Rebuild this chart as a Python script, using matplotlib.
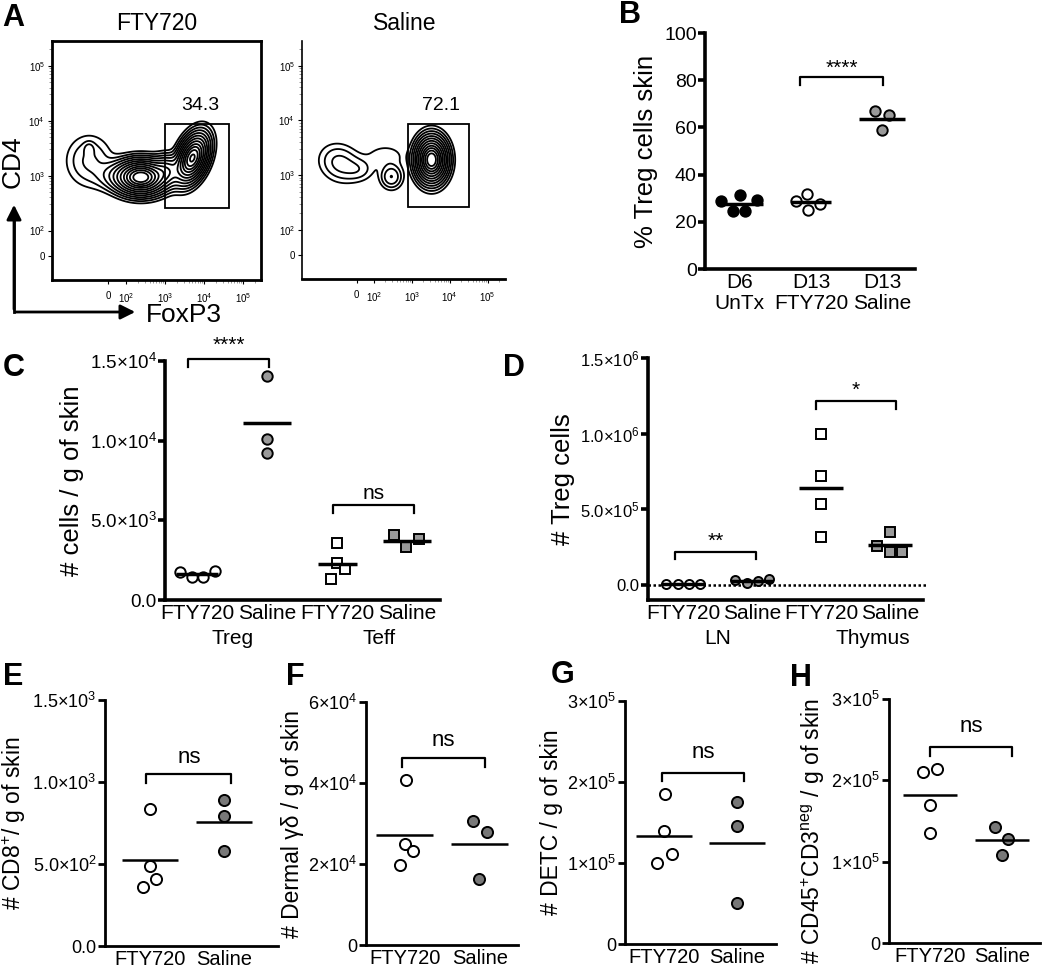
import numpy as np
import matplotlib
matplotlib.use('Agg')
import matplotlib.pyplot as plt
from matplotlib.patches import FancyArrowPatch, Rectangle
from matplotlib.lines import Line2D

plt.rcParams['font.family'] = ['Liberation Sans', 'DejaVu Sans']
plt.rcParams['mathtext.fontset'] = 'custom'
plt.rcParams['mathtext.rm'] = 'Liberation Sans'
plt.rcParams['mathtext.it'] = 'Liberation Sans:italic'
plt.rcParams['mathtext.bf'] = 'Liberation Sans:bold'

W, H = 1050, 971

# ---------------- data ----------------
# A: density blobs, in decades (FoxP3 x, CD4 y)
fty_bx = [2.38, 3.70, 1.05, 1.05, 1.7, 3.05]
fty_by = [2.97, 3.32, 3.27, 3.49, 3.0, 3.1]
fty_sx = [0.34, 0.26, 0.34, 0.08, 0.30, 0.20]
fty_sy = [0.16, 0.17, 0.27, 0.07, 0.15, 0.15]
fty_rot = [0, 50, 0, 0, 0, 0]
fty_w = [1.0, 0.9, 0.05, 0.035, 0.06, 0.18]

sal_bx = [3.52, 2.46, 1.1, 1.6, 2.3]
sal_by = [3.28, 2.97, 3.22, 3.1, 3.35]
sal_sx = [0.21, 0.17, 0.32, 0.25, 0.35]
sal_sy = [0.21, 0.13, 0.2, 0.13, 0.14]
sal_rot = [0, 0, -8, 0, 0]
sal_w = [1.0, 0.075, 0.055, 0.03, 0.02]

contour_frac = [0.012, 0.025, 0.045, 0.075, 0.12, 0.18, 0.26, 0.36, 0.48,
                0.6, 0.73, 0.86]

fty_gate = [3.0, 4.64, 2.41, 3.94]
sal_gate = [2.9, 4.5, 2.41, 3.94]
fty_pct = '34.3'
sal_pct = '72.1'

# B
b_labels = ['D6\nUnTx', 'D13\nFTY720', 'D13\nSaline']
b_d6 = [28.7, 31.2, 29.4, 24.7, 24.7]
b_d6_off = [-0.26, 0.0, 0.24, -0.09, 0.07]
b_fty = [28.7, 31.8, 25.1, 27.5]
b_fty_off = [-0.21, -0.06, -0.05, 0.13]
b_sal = [66.8, 65.4, 59.0]
b_sal_off = [-0.1, 0.1, 0.0]

# C
c_labels = ['FTY720', 'Saline', 'FTY720', 'Saline']
c_groups = ['Treg', 'Teff']
c_treg_fty = [1.78e3, 1.42e3, 1.46e3, 1.84e3]
c_treg_fty_off = [-0.24, -0.07, 0.09, 0.26]
c_treg_sal = [14.06e3, 10.09e3, 9.2e3]
c_treg_sal_off = [0.0, 0.0, 0.0]
c_teff_fty = [3.6e3, 2.3e3, 1.92e3, 1.3e3]
c_teff_fty_off = [0.0, 0.0, 0.11, -0.09]
c_teff_sal = [4.05e3, 3.3e3, 3.8e3]
c_teff_sal_off = [-0.19, -0.01, 0.17]

# D
d_labels = ['FTY720', 'Saline', 'FTY720', 'Saline']
d_groups = ['LN', 'Thymus']
d_ln_fty = [4e3, 3e3, 4e3, 5e3]
d_ln_fty_off = [-0.25, -0.08, 0.08, 0.25]
d_ln_sal = [33e3, 15e3, 26e3, 37e3]
d_ln_sal_off = [-0.25, -0.08, 0.08, 0.25]
d_thy_fty = [0.996e6, 0.723e6, 0.535e6, 0.319e6]
d_thy_fty_off = [0.0, 0.0, 0.0, 0.0]
d_thy_sal = [0.258e6, 0.348e6, 0.22e6, 0.22e6]
d_thy_sal_off = [-0.19, 0.0, 0.0, 0.18]

# E-H
eh_labels = ['FTY720', 'Saline']
e_fty = [0.837e3, 0.486e3, 0.407e3, 0.36e3]
e_fty_off = [0.0, 0.0, 0.08, -0.1]
e_sal = [0.892e3, 0.793e3, 0.577e3]
e_sal_off = [0.0, 0.0, 0.0]
f_fty = [40.7e3, 24.9e3, 23.3e3, 19.8e3]
f_fty_off = [0.01, 0.0, 0.11, -0.07]
f_sal = [30.5e3, 28.0e3, 16.2e3]
f_sal_off = [-0.09, 0.09, -0.01]
g_fty = [184.8e3, 139.9e3, 111e3, 99.6e3]
g_fty_off = [0.01, 0.0, 0.11, -0.1]
g_sal = [175.7e3, 145.7e3, 51e3]
g_sal_off = [0.0, 0.0, 0.0]
h_fty = [210.3e3, 214.3e3, 169.3e3, 135.2e3]
h_fty_off = [-0.1, 0.1, 0.0, 0.0]
h_sal = [142.6e3, 128.3e3, 107.8e3]
h_sal_off = [-0.1, 0.08, 0.0]

LIGHT = '#9a9a9a'
DARK = '#787878'


def rect(l, t, r, b):
    return [l / W, 1 - b / H, (r - l) / W, (b - t) / H]


def ftext(x, y, s, **kw):
    fig.text(x / W, 1 - y / H, s, **kw)


def group(ax, pos, vals, offs, marker='o', fc='white', ms=7.5, hw=0.3, mlw=2.5):
    vals = np.asarray(vals)
    ax.plot(pos + np.asarray(offs), vals, ls='none', marker=marker, ms=ms,
            mfc=fc, mec='black', mew=1.4, clip_on=False, zorder=3)
    m = vals.mean()
    ax.plot([pos - hw, pos + hw], [m, m], color='black', lw=mlw,
            solid_capstyle='butt', zorder=4)


def bracket(ax, x0, x1, y, yend, label, ty, fs=15):
    ax.plot([x0, x0, x1, x1], [yend, y, y, yend], color='black', lw=1.6,
            clip_on=False)
    ax.text((x0 + x1) / 2, ty, label, ha='center', va='center', fontsize=fs,
            clip_on=False)


def style_dot_axes(ax, lw=2.2, ysize=13.5):
    for s in ['top', 'right']:
        ax.spines[s].set_visible(False)
    for s in ['left', 'bottom']:
        ax.spines[s].set_linewidth(lw)
    ax.tick_params(axis='y', width=lw, length=5, labelsize=ysize, pad=1)
    ax.tick_params(axis='x', length=0, labelsize=15, pad=3)


def sci(v, exp, digits=1):
    if v == 0:
        return '0.0' if digits else '0'
    m = v / 10 ** exp
    return (('%.' + str(digits) + 'f') % m) + r'$\times$10$^{%d}$' % exp


fig = plt.figure(figsize=(W / 100, H / 100), dpi=100)

# ---------------- A ----------------
gx = np.linspace(0.1, 5.46, 400)
gy = np.linspace(1.1, 5.45, 400)
GX, GY = np.meshgrid(gx, gy)


def density(bx, by, sx, sy, rot, w):
    z = np.zeros_like(GX)
    for a, b, c, d, t, e in zip(bx, by, sx, sy, rot, w):
        t = np.deg2rad(t)
        u = (GX - a) * np.cos(t) + (GY - b) * np.sin(t)
        v = -(GX - a) * np.sin(t) + (GY - b) * np.cos(t)
        z += e * np.exp(-0.5 * ((u / c) ** 2 + (v / d) ** 2))
    return z


for i, (bx, by, sx, sy, rot, w, gate, pct, r) in enumerate([
        (fty_bx, fty_by, fty_sx, fty_sy, fty_rot, fty_w, fty_gate, fty_pct,
         rect(52, 41, 261, 280)),
        (sal_bx, sal_by, sal_sx, sal_sy, sal_rot, sal_w, sal_gate, sal_pct,
         rect(302, 41, 505, 279))]):
    ax = fig.add_axes(r)
    z = density(bx, by, sx, sy, rot, w)
    ax.contour(GX, GY, z, levels=np.array(contour_frac) * z.max(),
               colors='black', linewidths=1.3)
    ax.add_patch(Rectangle((gate[0], gate[2]), gate[1] - gate[0], gate[3] - gate[2],
                           fill=False, ec='black', lw=1.3))
    ax.text((gate[0] + gate[1]) / 2 + 0.07, gate[3] + 0.33, pct, ha='center',
            va='center', fontsize=14)
    ax.set_xlim(0.1, 5.46)
    ax.set_ylim(1.1, 5.45)
    dec_pos = [1.54, 2, 3, 4, 5]
    dec_lab = ['0', r'10$^{2}$', r'10$^{3}$', r'10$^{4}$', r'10$^{5}$']
    ax.set_xticks(dec_pos)
    ax.set_xticklabels(dec_lab)
    ax.set_yticks(dec_pos)
    ax.set_yticklabels(dec_lab)
    minor = [d + np.log10(k) for d in [2, 3, 4, 5] for k in range(2, 10)
             if d + np.log10(k) < 5.45]
    ax.set_xticks(minor, minor=True)
    ax.set_yticks(minor, minor=True)
    ax.tick_params(which='major', length=3, width=0.8, labelsize=7, pad=2)
    ax.tick_params(which='minor', length=2, width=0.6, color='#888888')
    ax.tick_params(axis='x', pad=5)
    if i == 0:
        for s in ax.spines.values():
            s.set_linewidth(2)
    else:
        ax.spines['top'].set_visible(False)
        ax.spines['right'].set_visible(False)
        ax.spines['left'].set_linewidth(1.2)
        ax.spines['bottom'].set_linewidth(2)

ftext(157, 24, 'FTY720', ha='center', va='center', fontsize=16.5)
ftext(405, 24, 'Saline', ha='center', va='center', fontsize=16.5)

# axis arrows
fig.add_artist(Line2D([14 / W, 14 / W], [1 - 312 / H, 1 - 215 / H], color='black',
                      lw=2, transform=fig.transFigure))
fig.add_artist(FancyArrowPatch((14 / W, 1 - 312 / H), (14 / W, 1 - 202 / H),
                               transform=fig.transFigure, arrowstyle='-|>',
                               mutation_scale=22, lw=2, color='black'))
fig.add_artist(FancyArrowPatch((13 / W, 1 - 312 / H), (138 / W, 1 - 312 / H),
                               transform=fig.transFigure, arrowstyle='-|>',
                               mutation_scale=22, lw=2, color='black'))
ftext(13, 162, 'CD4', rotation=90, ha='center', va='center', fontsize=19)
ftext(146, 315, 'FoxP3', ha='left', va='center', fontsize=19)

# ---------------- B ----------------
axB = fig.add_axes(rect(705, 33, 915, 269))
group(axB, 0, b_d6, b_d6_off, fc='black', hw=0.32)
group(axB, 1, b_fty, b_fty_off, fc='white', hw=0.28)
group(axB, 2, b_sal, b_sal_off, fc=LIGHT, hw=0.32)
bracket(axB, 0.85, 2.01, 81.4, 78, '****', 85.0)
axB.set_xlim(-0.49, 2.46)
axB.set_ylim(0, 100)
axB.set_yticks([0, 20, 40, 60, 80, 100])
axB.set_xticks([0, 1, 2])
axB.set_xticklabels(b_labels, linespacing=1.15)
axB.set_ylabel('% Treg cells skin', fontsize=18.5, labelpad=4)
style_dot_axes(axB, 2.6, 14)

# ---------------- C ----------------
axC = fig.add_axes(rect(165, 361, 440, 600))
group(axC, 0, c_treg_fty, c_treg_fty_off, fc='white')
group(axC, 1, c_treg_sal, c_treg_sal_off, fc=LIGHT, hw=0.34)
group(axC, 2, c_teff_fty, c_teff_fty_off, marker='s', fc='white', ms=7, hw=0.28)
group(axC, 3, c_teff_sal, c_teff_sal_off, marker='s', fc=LIGHT, ms=7, hw=0.34)
bracket(axC, -0.13, 1.03, 15.1e3, 14.6e3, '****', 16.0e3)
bracket(axC, 1.94, 3.1, 5.96e3, 5.46e3, 'ns', 6.7e3)
axC.set_xlim(-0.46, 3.47)
axC.set_ylim(0, 1.5e4)
axC.set_yticks([0, 5e3, 1e4, 1.5e4])
axC.set_yticklabels(['0.0', sci(5e3, 3), sci(1e4, 4), sci(1.5e4, 4)])
axC.set_xticks([0, 1, 2, 3])
axC.set_xticklabels(c_labels)
axC.set_ylabel('# cells / g of skin', fontsize=18.5, labelpad=4)
style_dot_axes(axC, 2.6, 13.5)
for x, lab in zip([0.5, 2.6], c_groups):
    axC.annotate(lab, xy=(x, 0), xycoords=('data', 'axes fraction'),
                 xytext=(0, -38 * 0.72), textcoords='offset points',
                 ha='center', va='center', fontsize=15)

# ---------------- D ----------------
axD = fig.add_axes(rect(648, 358, 923, 600))
axD.plot([-0.51, 3.52], [0, 0], color='black', lw=1.8, ls=(0, (1, 1)),
         clip_on=False, zorder=2)
group(axD, 0, d_ln_fty, d_ln_fty_off, fc='white', ms=6.5, hw=0.32)
group(axD, 1, d_ln_sal, d_ln_sal_off, fc=LIGHT, ms=6.5, hw=0.3)
group(axD, 2, d_thy_fty, d_thy_fty_off, marker='s', fc='white', ms=7, hw=0.32)
group(axD, 3, d_thy_sal, d_thy_sal_off, marker='s', fc=LIGHT, ms=7, hw=0.32)
bracket(axD, -0.12, 1.06, 0.218e6, 0.172e6, '**', 0.29e6)
bracket(axD, 1.93, 3.09, 1.216e6, 1.163e6, '*', 1.285e6)
axD.set_xlim(-0.51, 3.48)
axD.set_ylim(-0.1e6, 1.5e6)
axD.set_yticks([0, 5e5, 1e6, 1.5e6])
axD.set_yticklabels(['0.0', sci(5e5, 5), sci(1e6, 6), sci(1.5e6, 6)])
axD.set_xticks([0, 1, 2, 3])
axD.set_xticklabels(d_labels)
axD.set_ylabel('# Treg cells', fontsize=18.5, labelpad=4)
style_dot_axes(axD, 2.6, 12)
for x, lab in zip([0.5, 2.75], d_groups):
    axD.annotate(lab, xy=(x, 0), xycoords=('data', 'axes fraction'),
                 xytext=(0, -38 * 0.72), textcoords='offset points',
                 ha='center', va='center', fontsize=15)

# ---------------- E-H ----------------
panels = [
    (rect(105, 700, 278, 946), e_fty, e_fty_off, e_sal, e_sal_off,
     (-0.61, 1.73), (0, 1.5e3), [0, 5e2, 1e3, 1.5e3],
     ['0.0', sci(5e2, 2), sci(1e3, 3), sci(1.5e3, 3)],
     (-0.05, 1.1, 1.049e3, 0.994e3, 1.15e3), r'# CD8$^{+}$/ g of skin', 0.5),
    (rect(366, 702, 518, 945), f_fty, f_fty_off, f_sal, f_sal_off,
     (-0.52, 1.51), (0, 6e4), [0, 2e4, 4e4, 6e4],
     ['0', sci(2e4, 4, 0), sci(4e4, 4, 0), sci(6e4, 4, 0)],
     (-0.04, 1.07, 46.2e3, 43.9e3, 50.6e3), r'# Dermal γδ / g of skin', 0.5),
    (rect(625, 701, 776, 944), g_fty, g_fty_off, g_sal, g_sal_off,
     (-0.53, 1.53), (0, 3e5), [0, 1e5, 2e5, 3e5],
     ['0', sci(1e5, 5, 0), sci(2e5, 5, 0), sci(3e5, 5, 0)],
     (-0.03, 1.1, 211e3, 201e3, 236e3), '# DETC / g of skin', 0.5),
    (rect(889, 699, 1040, 943), h_fty, h_fty_off, h_sal, h_sal_off,
     (-0.57, 1.53), (0, 3e5), [0, 1e5, 2e5, 3e5],
     ['0', sci(1e5, 5, 0), sci(2e5, 5, 0), sci(3e5, 5, 0)],
     (0.0, 1.14, 241e3, 230e3, 266e3),
     r'# CD45$^{+}$CD3$^{\mathrm{neg}}$ / g of skin', 0.46),
]
for r, fv, fo, sv, so, xl, yl, yt, ytl, br, ylab, ly in panels:
    ax = fig.add_axes(r)
    group(ax, 0, fv, fo, fc='white', ms=8, hw=0.38, mlw=1.8)
    group(ax, 1, sv, so, fc=DARK, ms=8, hw=0.38, mlw=1.8)
    bracket(ax, br[0], br[1], br[2], br[3], 'ns', br[4], fs=16)
    ax.set_xlim(*xl)
    ax.set_ylim(*yl)
    ax.set_yticks(yt)
    ax.set_yticklabels(ytl)
    ax.set_xticks([0, 1])
    ax.set_xticklabels(eh_labels)
    ax.set_ylabel(ylab, fontsize=16.5, labelpad=3)
    ax.yaxis.label.set_y(ly)
    style_dot_axes(ax, 2, 13)
    ax.tick_params(axis='x', labelsize=14.5)

# panel letters
for lab, x, y in [('A', 13, 18), ('B', 630, 15), ('C', 14, 368), ('D', 514, 368),
                  ('E', 13, 677), ('F', 295, 677), ('G', 563, 675), ('H', 801, 678)]:
    ftext(x, y, lab, ha='center', va='center', fontsize=22, fontweight='bold')

fig.savefig('out.png', dpi=100)
